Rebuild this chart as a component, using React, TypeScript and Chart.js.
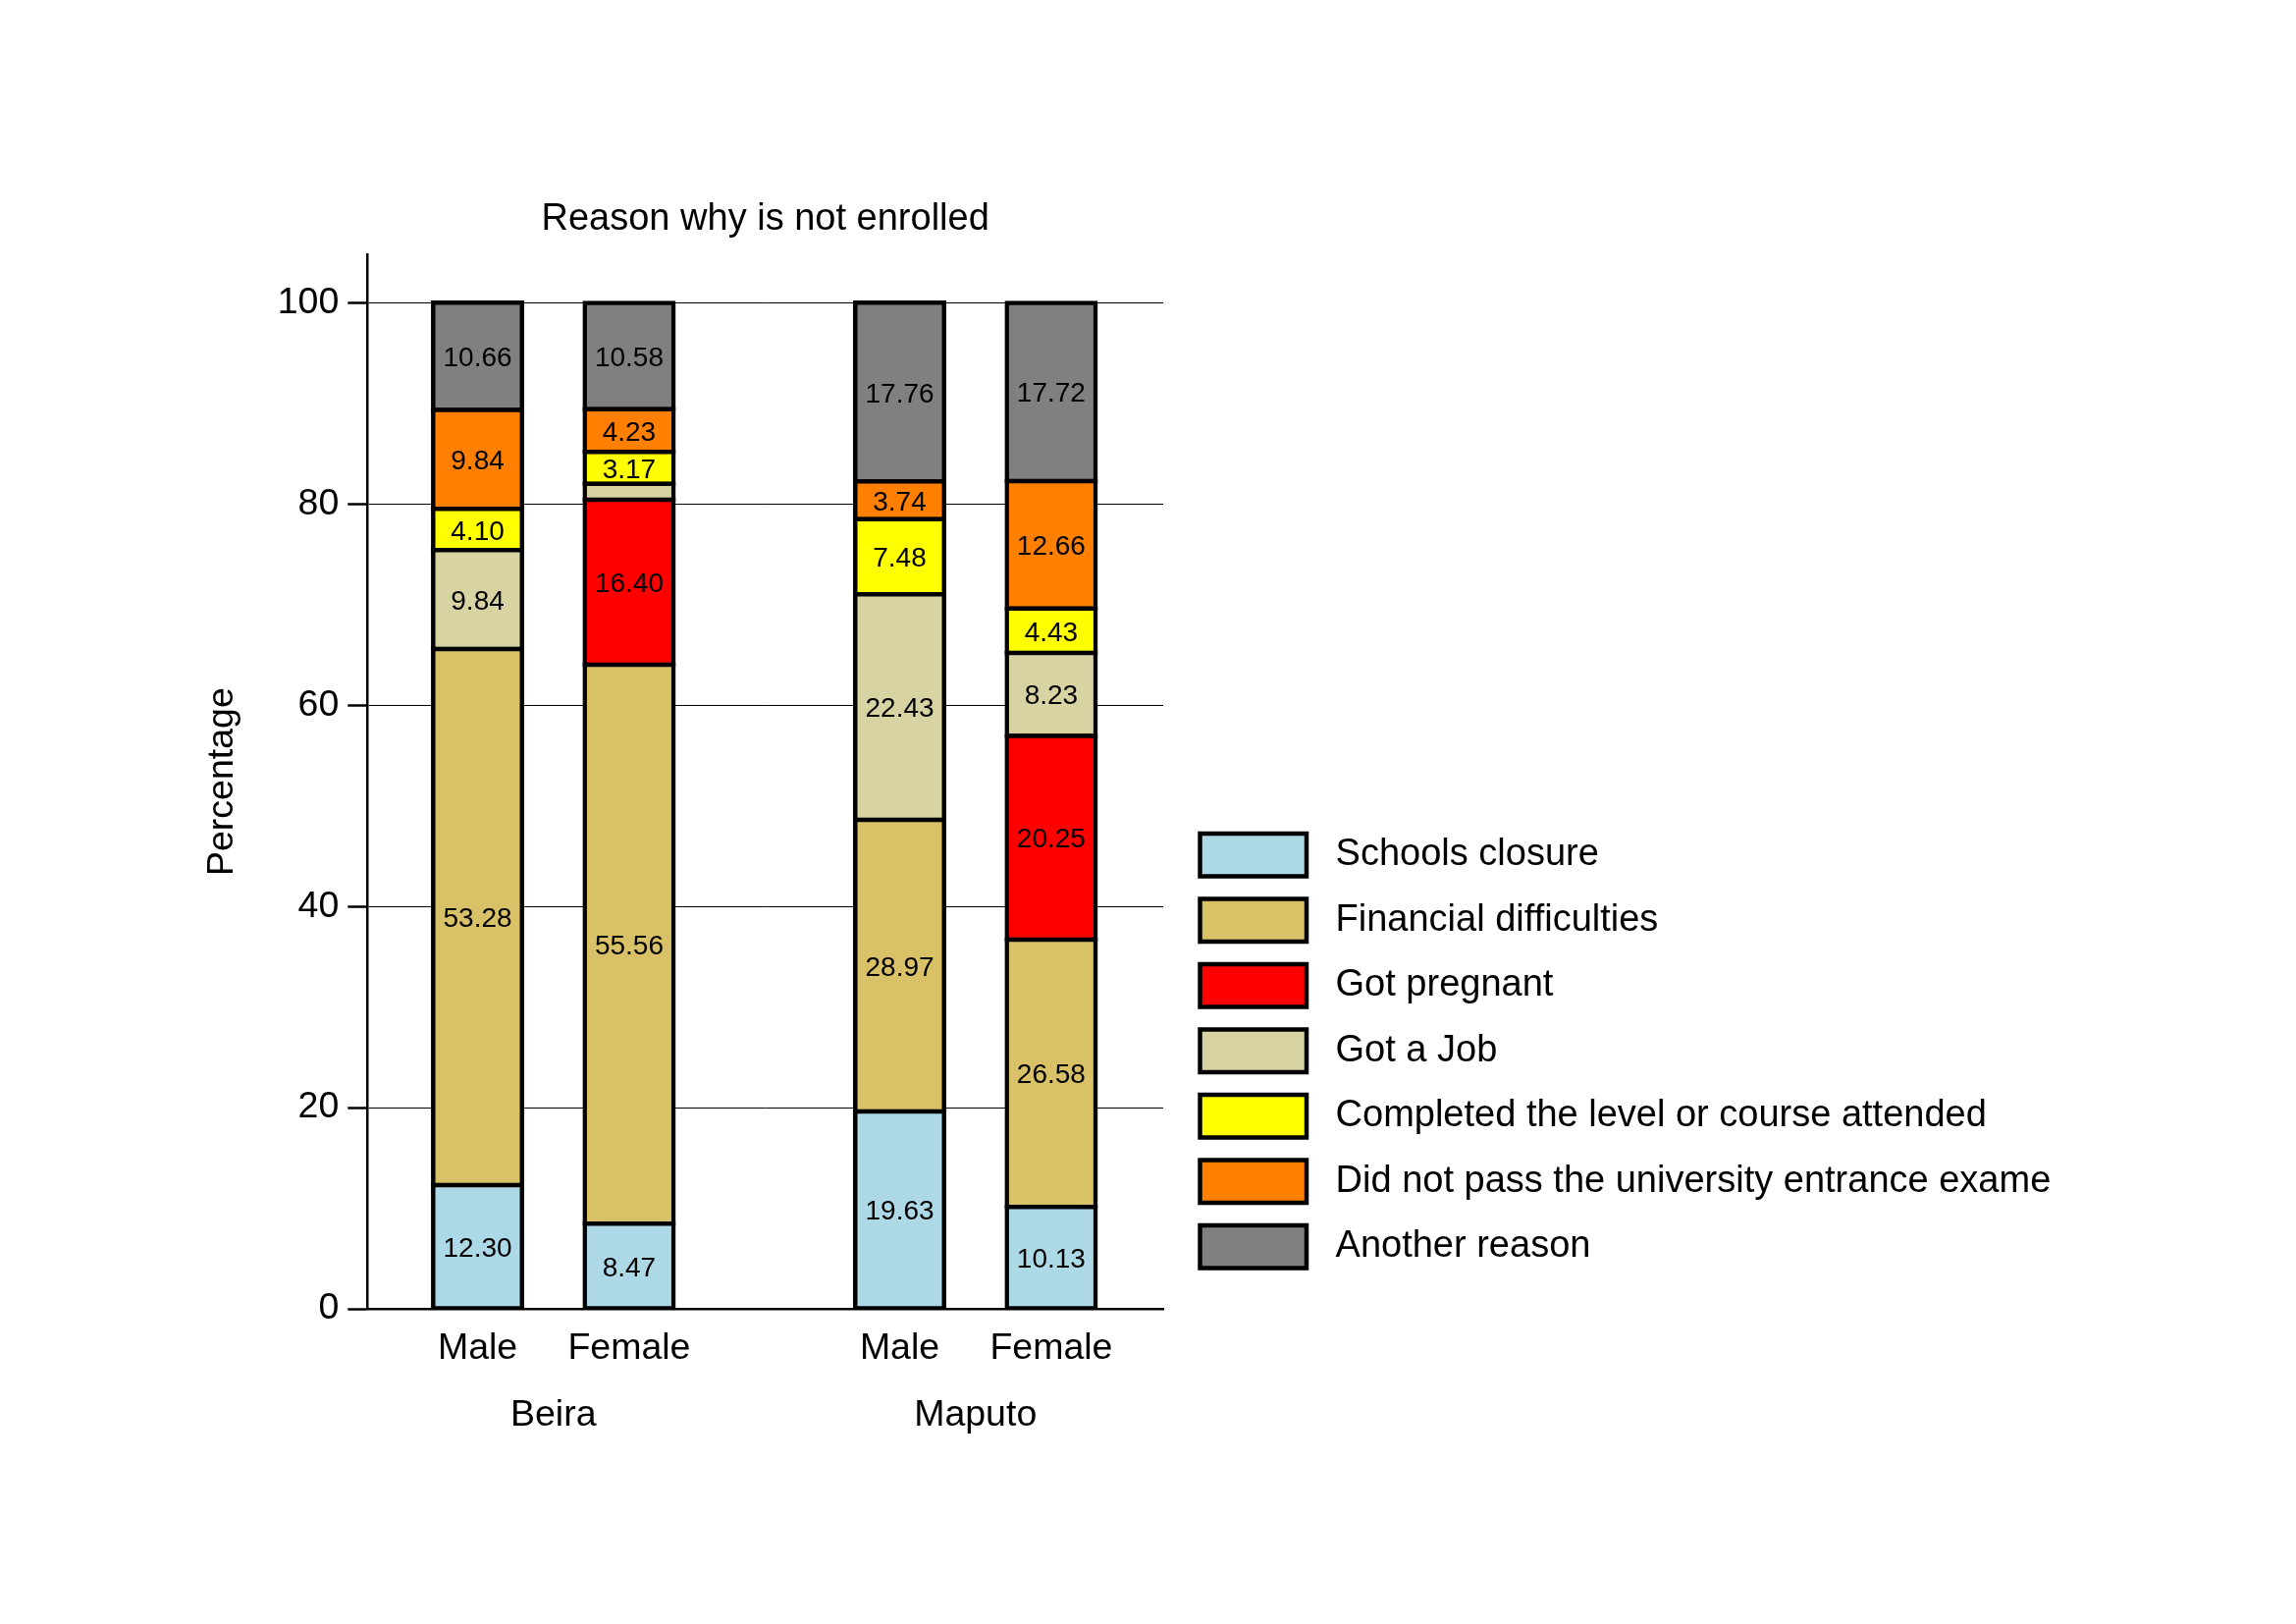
import React, { useEffect, useRef } from 'react';
import { Chart, registerables } from 'chart.js';

Chart.register(...registerables);

// ---------------- data ----------------
const chartTitle = 'Reason why is not enrolled';
const yAxisTitle = 'Percentage';
const cities = ['Beira', 'Maputo'];
const sexes = ['Male', 'Female'];
const reasons = [
  'Schools closure',
  'Financial difficulties',
  'Got pregnant',
  'Got a Job',
  'Completed the level or course attended',
  'Did not pass the university entrance exame',
  'Another reason',
];
// order of bars: Beira Male, Beira Female, Maputo Male, Maputo Female
const schoolsClosure = [12.3, 8.47, 19.63, 10.13];
const financialDifficulties = [53.28, 55.56, 28.97, 26.58];
const gotPregnant = [null, 16.4, null, 20.25];
const gotAJob = [9.84, 1.59, 22.43, 8.23];
const completedLevel = [4.1, 3.17, 7.48, 4.43];
const didNotPass = [9.84, 4.23, 3.74, 12.66];
const anotherReason = [10.66, 10.58, 17.76, 17.72];
const yTicks = [0, 20, 40, 60, 80, 100];

const seriesValues: (number | null)[][] = [
  schoolsClosure,
  financialDifficulties,
  gotPregnant,
  gotAJob,
  completedLevel,
  didNotPass,
  anotherReason,
];

// ---------------- styles / layout ----------------
const reasonColors = ['#ADD8E6', '#D9C167', '#FF0000', '#D8D3A3', '#FFFF00', '#FF8000', '#808080'];
const FONT = '"Liberation Sans", Arial, Helvetica, sans-serif';
const TEXT_SIZE = 37.5;
const BIG_TEXT_SIZE = 38;
const BORDER = 4.5;
const GROUP_STRIDE = 2.785;
const X_MIN = 0.273;
const X_MAX = 5.524;
const Y_MAX = 104.8;
const LABEL_DY = 2.5;

const barPositions = cities.flatMap((_, c) => sexes.map((__, s) => 1 + c * GROUP_STRIDE + s));
const barSexLabels = cities.flatMap(() => sexes);
const groupCenters = cities.map((_, c) => 1 + c * GROUP_STRIDE + (sexes.length - 1) / 2);

const valueLabels = {
  id: 'valueLabels',
  afterDatasetsDraw(chart: any) {
    const { ctx } = chart;
    ctx.save();
    ctx.font = `28px ${FONT}`;
    ctx.fillStyle = '#000';
    ctx.textAlign = 'center';
    ctx.textBaseline = 'middle';
    chart.data.datasets.forEach((_ds: any, i: number) => {
      const meta = chart.getDatasetMeta(i);
      if (meta.hidden) return;
      meta.data.forEach((el: any, j: number) => {
        const v = seriesValues[i][j];
        if (v == null || v < 2) return;
        const { x, y, base } = el.getProps(['x', 'y', 'base'], true);
        ctx.fillText(v.toFixed(2), x, (y + base) / 2 + LABEL_DY);
      });
    });
    ctx.restore();
  },
};

export default function App() {
  const canvasRef = useRef<HTMLCanvasElement | null>(null);

  useEffect(() => {
    const canvas = canvasRef.current;
    if (!canvas) return;
    const textFont = { family: FONT, size: TEXT_SIZE, weight: 'normal' as const };
    const bigFont = { family: FONT, size: BIG_TEXT_SIZE, weight: 'normal' as const };

    const chart = new Chart(canvas, {
      type: 'bar',
      data: {
        datasets: reasons.map((r, i) => ({
          label: r,
          data: barPositions.map((x, j) => ({ x, y: seriesValues[i][j] })) as any,
          backgroundColor: reasonColors[i],
          borderColor: '#000',
          borderWidth: BORDER,
          borderSkipped: false,
          inflateAmount: BORDER / 2,
          barPercentage: 0.5862,
          categoryPercentage: 1,
          xAxisID: 'x',
          yAxisID: 'y',
        })),
      },
      options: {
        responsive: false,
        animation: false,
        devicePixelRatio: 1,
        events: [],
        layout: { padding: { left: 203.8, top: 152, right: 244.5, bottom: 185 } },
        plugins: {
          title: {
            display: true,
            fullSize: false,
            text: chartTitle,
            color: '#000',
            font: bigFont,
            padding: { top: 49.2, bottom: 12.5 },
          },
          legend: {
            display: true,
            position: 'right',
            align: 'start',
            maxWidth: 895,
            title: {
              display: true,
              text: '',
              font: { size: 12, lineHeight: 1 },
              padding: { top: 662, bottom: 0 },
            },
            labels: {
              color: '#000',
              font: bigFont,
              boxWidth: 108.5,
              boxHeight: 43.5,
              padding: 23,
              generateLabels: (ch: any) =>
                (Chart.defaults.plugins.legend.labels as any)
                  .generateLabels(ch)
                  .map((item: any) => ({ ...item, text: ' ' + item.text })),
            },
          },
          tooltip: { enabled: false },
        },
        scales: {
          x: {
            type: 'linear',
            axis: 'x',
            position: 'bottom',
            min: X_MIN,
            max: X_MAX,
            bounds: 'data',
            offset: false,
            stacked: true,
            afterBuildTicks: (s: any) => {
              s.ticks = barPositions.map((v) => ({ value: v }));
            },
            ticks: {
              autoSkip: false,
              maxRotation: 0,
              padding: 18.5,
              color: '#000',
              font: textFont,
              callback: (_v: any, i: number) => barSexLabels[i],
            },
            grid: { display: false, drawTicks: false, offset: false },
            border: { display: true, color: '#000', width: 2.5 },
          },
          xGroup: {
            type: 'linear',
            axis: 'x',
            position: 'bottom',
            weight: 1,
            min: X_MIN,
            max: X_MAX,
            bounds: 'data',
            offset: false,
            afterBuildTicks: (s: any) => {
              s.ticks = groupCenters.map((v) => ({ value: v }));
            },
            ticks: {
              autoSkip: false,
              maxRotation: 0,
              padding: 4.5,
              color: '#000',
              font: textFont,
              callback: (_v: any, i: number) => cities[i],
            },
            grid: { display: false, drawTicks: false },
            border: { display: false },
          },
          y: {
            type: 'linear',
            axis: 'y',
            position: 'left',
            min: 0,
            max: Y_MAX,
            stacked: true,
            afterBuildTicks: (s: any) => {
              s.ticks = yTicks.map((v) => ({ value: v }));
            },
            afterFit: (s: any) => {
              s.width = 170.5;
            },
            ticks: { padding: 9, color: '#000', font: textFont },
            grid: {
              color: '#000',
              lineWidth: 1,
              drawTicks: true,
              tickLength: 20,
              tickWidth: 2.5,
              tickColor: '#000',
            },
            border: { display: true, color: '#000', width: 2.5 },
            title: {
              display: true,
              text: yAxisTitle,
              color: '#000',
              font: textFont,
              padding: { top: 0, bottom: 25 },
            },
          },
          pad: {
            type: 'linear',
            axis: 'y',
            position: 'right',
            display: true,
            afterFit: (s: any) => {
              s.width = 14.5;
            },
            ticks: { display: false },
            grid: { display: false, drawTicks: false },
            border: { display: false },
          },
        } as any,
      },
      plugins: [valueLabels],
    });

    return () => chart.destroy();
  }, []);

  return (
    <div
      style={{
        position: 'fixed',
        left: 0,
        top: 0,
        width: 2339,
        height: 1654,
        background: '#fff',
      }}
    >
      <canvas ref={canvasRef} width={2339} height={1654} style={{ display: 'block' }} />
    </div>
  );
}
